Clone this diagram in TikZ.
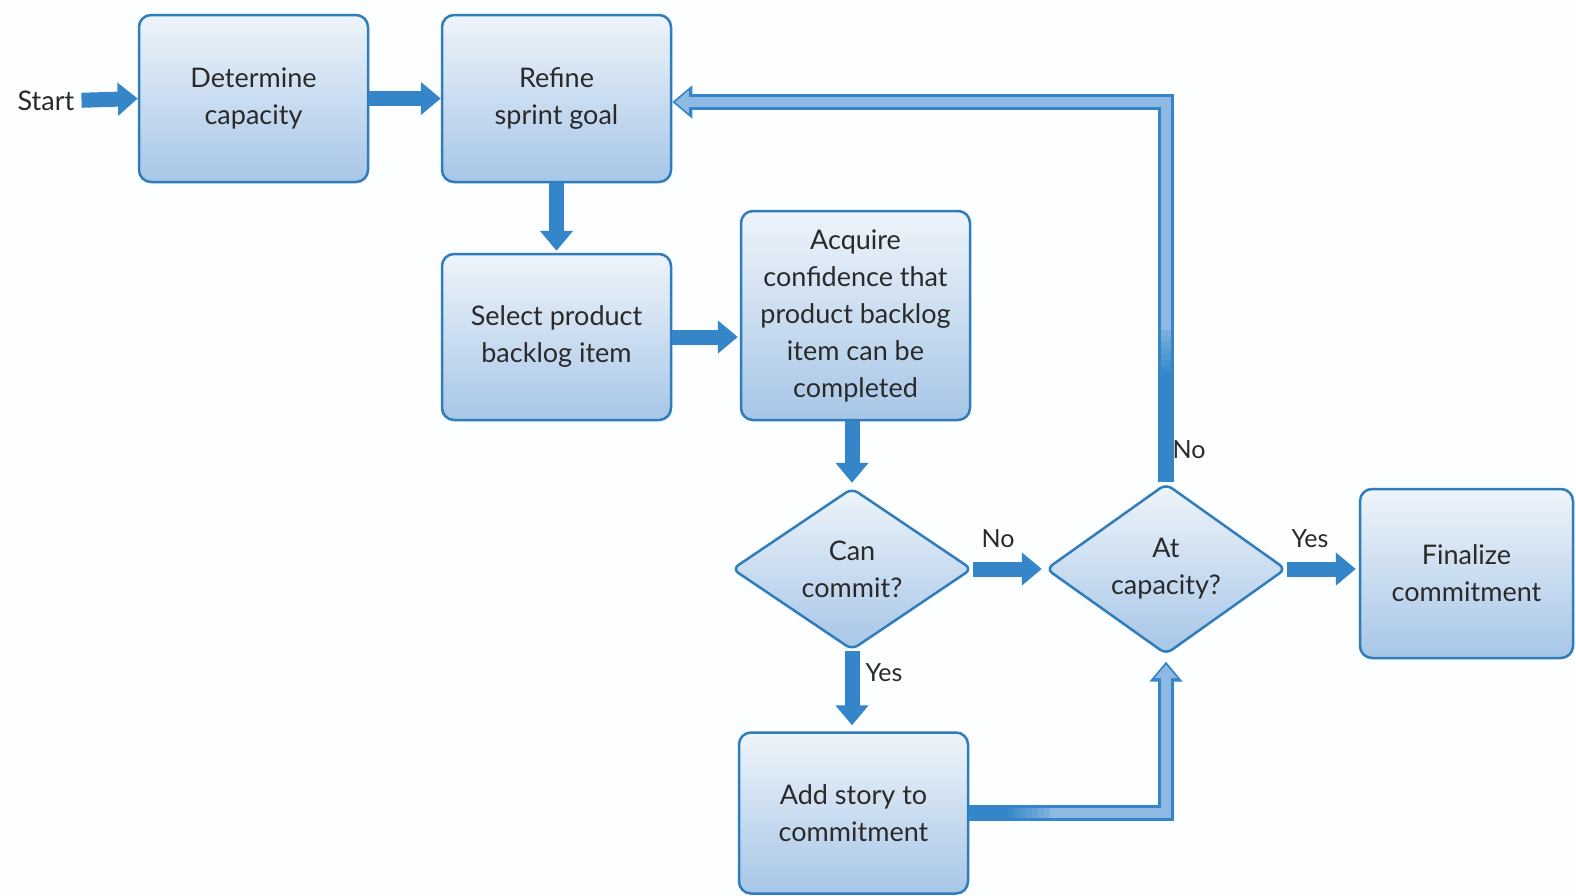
\documentclass[tikz,border=0pt]{standalone}
\usepackage{fontspec}
\setmainfont{Lato}
\usetikzlibrary{arrows.meta,shapes.geometric,calc}

\definecolor{edge}{HTML}{2F7DBD}
\definecolor{flow}{HTML}{3486C8}
\definecolor{flowlight}{HTML}{8DB9E2}
\definecolor{boxtop}{HTML}{EEF4FA}
\definecolor{boxmid}{HTML}{B7D1EC}
\definecolor{boxbot}{HTML}{A7C6E7}
\definecolor{ink}{HTML}{2A2A2A}
\definecolor{paper}{HTML}{FCFEFF}

\begin{document}
\begin{tikzpicture}[x=1pt,y=-1pt,
  txt/.style={text=ink, align=center, font=\fontsize{27}{37}\selectfont},
  stepbox/.style={txt, draw=edge, line width=2.5pt, rounded corners=12pt,
    top color=boxtop, middle color=boxmid, bottom color=boxbot, inner sep=0pt},
  choice/.style={txt, shape=diamond, draw=edge, line width=2.5pt, rounded corners=7pt,
    top color=boxtop, middle color=boxmid, bottom color=boxbot, inner sep=0pt,
    minimum width=240pt, minimum height=162pt},
  flowarrow/.style={draw=flow, line width=15pt, line join=miter,
    -{Triangle[width=32pt,length=20pt]}},
  loopouter/.style={draw=flow, line width=16pt, line join=miter,
    -{Triangle[width=32pt,length=20pt]}},
  loopinner/.style={draw=flowlight, line width=10pt, line join=miter,
    -{Triangle[width=22pt,length=13.5pt]}},
  tag/.style={text=ink, font=\fontsize{25}{28}\selectfont}
]
\useasboundingbox (0,0) rectangle (1576,895);
\fill[paper] (0,0) rectangle (1576,895);

% process steps
\node[stepbox, minimum width=229pt, minimum height=167pt] (det) at (253.5,98.5) {Determine\\capacity};
\node[stepbox, minimum width=229pt, minimum height=167pt] (ref) at (556.5,98.5) {Refine\\sprint goal};
\node[stepbox, minimum width=229pt, minimum height=166pt] (sel) at (556.5,337) {Select product\\backlog item};
\node[stepbox, minimum width=229pt, minimum height=209pt] (acq) at (855.5,315.5) {Acquire\\confidence that\\product backlog\\item can be\\completed};
\node[choice] (can) at (852,569) {Can\\commit?};
\node[choice] (atc) at (1166,569) {At\\capacity?};
\node[stepbox, minimum width=213pt, minimum height=169pt] (fin) at (1466.5,573.5) {Finalize\\commitment};
\node[stepbox, minimum width=229pt, minimum height=161pt] (add) at (853.5,813) {Add story to\\commitment};

\node[txt, inner sep=0pt] (start) at (46,100.5) {Start};
\coordinate (fbk) at (1166,102);

% straight flows
\draw[flowarrow, shorten <=7pt] (start.east) -- (det.west);
\draw[flowarrow] (det.east) -- (ref.west);
\draw[flowarrow, shorten >=2pt] (ref.south) -- (sel.north);
\draw[flowarrow, shorten >=2pt] (sel.east) -- (sel.east -| acq.west);
\draw[flowarrow, shorten >=4pt] (can.north |- acq.south) -- (can.north);
\draw[flowarrow, shorten >=3pt] (can.east) -- (atc.west);
\draw[flowarrow, shorten >=3pt] (atc.east) -- (atc.east -| fin.west);
\draw[flowarrow, shorten >=6pt] (can.south) -- (can.south |- add.north);

% loop back to the sprint goal
\draw[loopouter] (atc.north) -- (fbk) -- (ref.east |- fbk);
\draw[loopinner, shorten >=3pt] (1166,330) -- (fbk) -- (ref.east |- fbk);
\foreach \k in {1,...,8}
  \draw[flowlight, line width=10pt, opacity=\k/9] (1166,{378-6*\k}) -- (1166,{372-6*\k});

% added story back to the capacity check
\draw[loopouter, shorten >=6pt] (add.east) -| (atc.south);
\draw[loopinner, shorten >=9pt] (1050,813) -| (atc.south);
\foreach \k in {1,...,8}
  \draw[flowlight, line width=10pt, opacity=\k/9] ({1002+6*\k},813) -- ({1008+6*\k},813);

% branch labels
\node[tag] (no1) at (998,539) {No};
\node[tag] (yes1) at (884,673) {Yes};
\node[tag] (no2) at (1189,450) {No};
\node[tag] (yes2) at (1310,539) {Yes};
\end{tikzpicture}
\end{document}
